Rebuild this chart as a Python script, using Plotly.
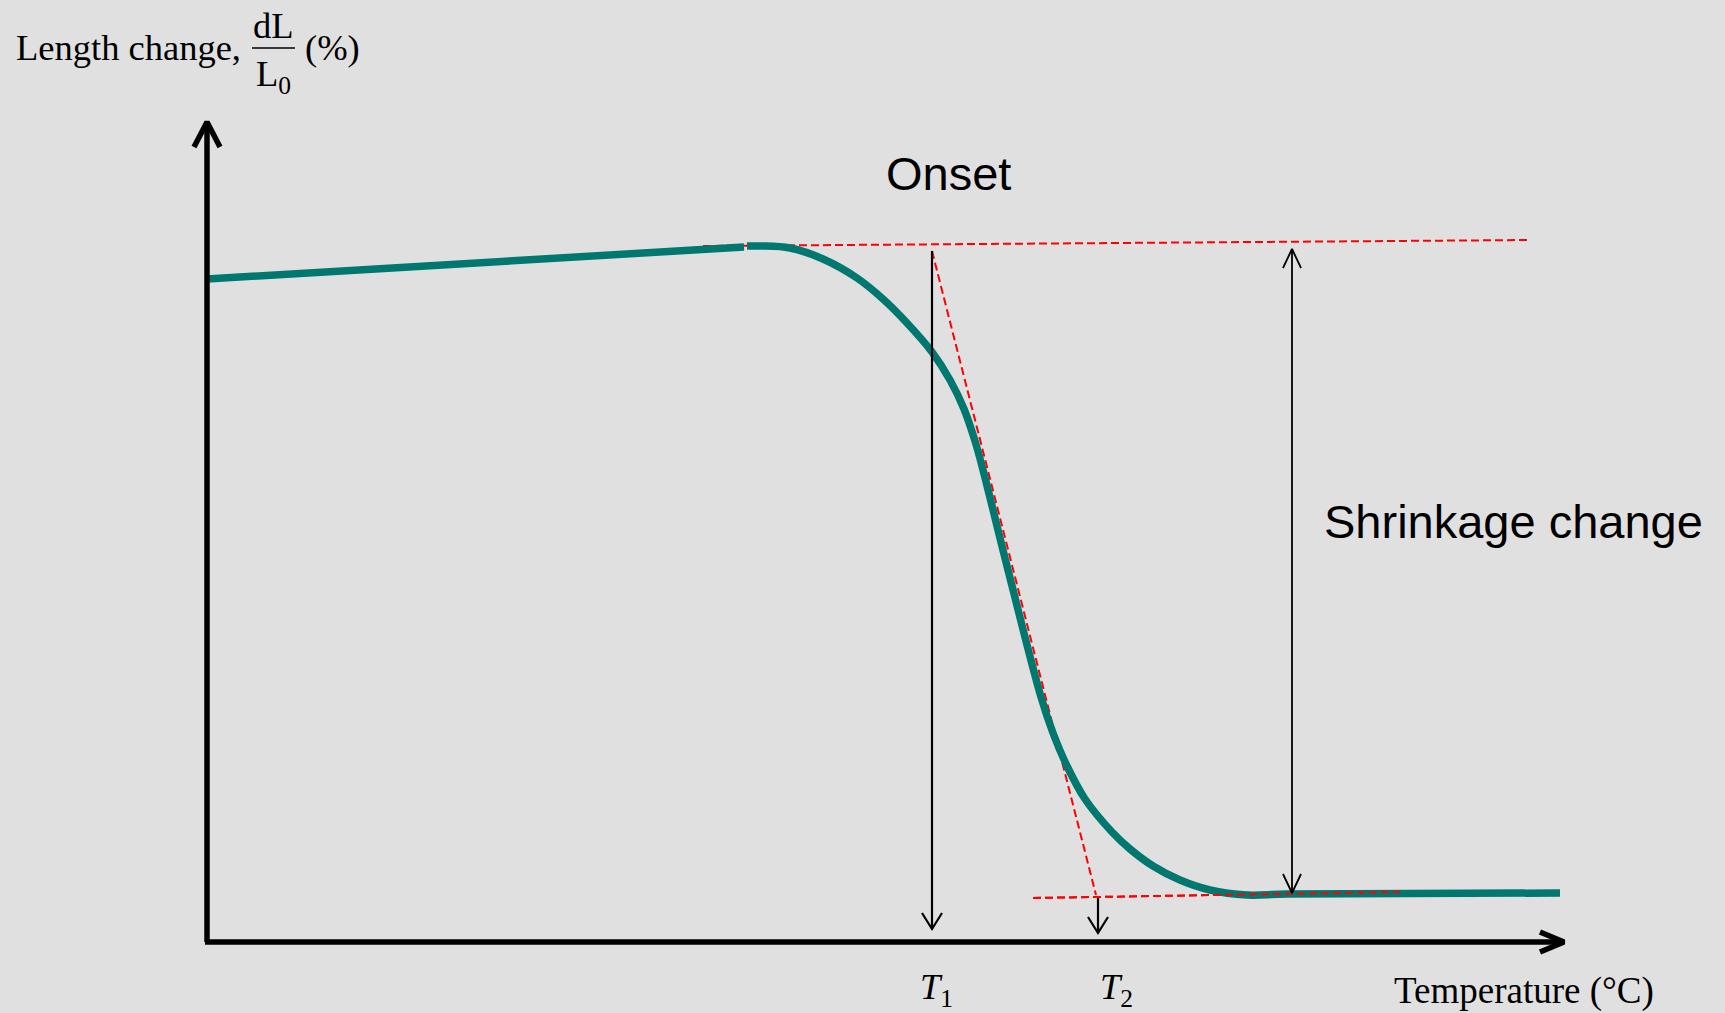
import plotly.graph_objects as go

# Schematic dilatometer curve (arbitrary units; origin at axis crossing)
# Linear expansion segment
seg_a_T = [0, 537]
seg_a_L = [663, 695]
# Shrinkage segment
seg_b_T = [540, 553, 583, 616, 650, 676, 700, 725, 743, 757, 768, 775, 800, 834,
           846, 860, 878, 905, 923, 946, 973, 1003, 1040, 1080, 1353]
seg_b_L = [696, 696, 694, 683, 664, 643, 619, 590, 562, 533, 501, 476, 376, 245,
           209, 176, 143, 110, 93, 76, 62, 52, 47, 48, 49]

# Tangent construction lines (red dashed)
tan_top_T = [496, 1324]
tan_top_L = [696, 702]
tan_steep_T = [725, 889]
tan_steep_L = [691, 47]
tan_bot_T = [826, 1193]
tan_bot_L = [44, 50]

# Marker positions
T1_x = 725
T2_x = 891
shrink_x = 1085
shrink_top = 693
shrink_bot = 49
T1_top = 691
T2_top = 44

# axes extent
x_axis_end = 1357
y_axis_end = 820

TEAL = "#00776F"
RED = "#FF0000"
BG = "#E0E0E0"

fig = go.Figure()

def line(xs, ys, color="black", width=2, dash=None):
    fig.add_trace(go.Scatter(x=xs, y=ys, mode="lines",
                             line=dict(color=color, width=width, dash=dash),
                             hoverinfo="skip", showlegend=False))

# red tangents
line(tan_top_T, tan_top_L, RED, 2, "8px,4px")
line(tan_steep_T, tan_steep_L, RED, 2, "8px,4px")
line(tan_bot_T, tan_bot_L, RED, 2, "8px,4px")

# teal curve
line(seg_a_T, seg_a_L, TEAL, 7.5)
fig.add_trace(go.Scatter(x=seg_b_T, y=seg_b_L, mode="lines",
                         line=dict(color=TEAL, width=7.5, shape="spline", smoothing=1.0),
                         hoverinfo="skip", showlegend=False))
# re-draw red dashes over the teal where they overlap
line(tan_bot_T, tan_bot_L, RED, 2, "8px,4px")

# axes with arrowheads
line([0, 0], [0, y_axis_end - 2], "black", 5.5)
line([-13, 0, 13], [y_axis_end - 25, y_axis_end, y_axis_end - 25], "black", 5.5)
line([-2, x_axis_end - 2], [0, 0], "black", 5.5)
line([x_axis_end - 24, x_axis_end, x_axis_end - 24], [10, 0, -10], "black", 5.5)

# T1 arrow
line([T1_x, T1_x], [T1_top, 13], "black", 2.2)
line([T1_x - 10, T1_x, T1_x + 10], [29, 13, 29], "black", 2.2)
# T2 arrow
line([T2_x, T2_x], [T2_top, 9], "black", 2.2)
line([T2_x - 10, T2_x, T2_x + 10], [25, 9, 25], "black", 2.2)
# shrinkage double arrow
line([shrink_x, shrink_x], [shrink_top, shrink_bot], "black", 1.8)
line([shrink_x - 9, shrink_x, shrink_x + 9], [shrink_top - 19, shrink_top, shrink_top - 19], "black", 1.8)
line([shrink_x - 9, shrink_x, shrink_x + 9], [shrink_bot + 19, shrink_bot, shrink_bot + 19], "black", 1.8)

# fraction bar of dL/L0
line([45, 88], [894, 894], "black", 1.5)

serif = "Liberation Serif"
sans = "Liberation Sans"
ann = [
    dict(x=741, y=769, text="Onset", font=dict(family=sans, size=47, color="black")),
    dict(x=1306, y=421, text="Shrinkage change", font=dict(family=sans, size=47, color="black")),
    dict(x=-193, y=895, text="Length change,", xanchor="left",
         font=dict(family=serif, size=36.5, color="black")),
    dict(x=66, y=917, text="dL", font=dict(family=serif, size=36.5, color="black")),
    dict(x=66, y=866, text="L<sub>0</sub>", font=dict(family=serif, size=36.5, color="black")),
    dict(x=125, y=895, text="(%)", font=dict(family=serif, size=36.5, color="black")),
    dict(x=729, y=-47, text="<i>T</i><sub>1</sub>", font=dict(family=serif, size=36.5, color="black")),
    dict(x=909, y=-47, text="<i>T</i><sub>2</sub>", font=dict(family=serif, size=36.5, color="black")),
    dict(x=1317, y=-49, text="Temperature (°C)", font=dict(family=serif, size=37, color="black")),
]
for a in ann:
    a.setdefault("xanchor", "center")
    a.setdefault("yanchor", "middle")
    fig.add_annotation(showarrow=False, xref="x", yref="y", **a)

fig.update_layout(
    width=1725, height=1013,
    margin=dict(l=0, r=0, t=0, b=0),
    paper_bgcolor=BG, plot_bgcolor=BG,
    xaxis=dict(range=[-207, 1518], visible=False, fixedrange=True),
    yaxis=dict(range=[-71, 942], visible=False, fixedrange=True),
)

fig.write_html("out.html")
